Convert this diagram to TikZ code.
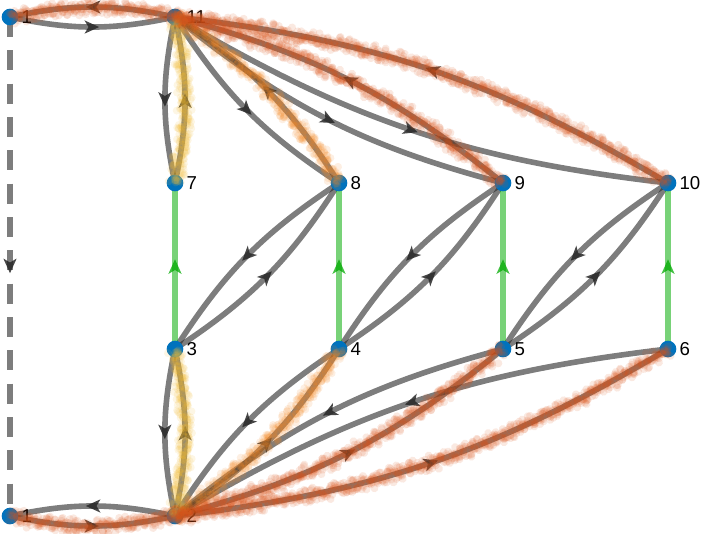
\documentclass[tikz,border=0pt]{standalone}
\usepackage{fontspec}
\setmainfont{Liberation Sans}
\usepackage{tikz}
\usetikzlibrary{arrows.meta, decorations.markings, backgrounds}
\definecolor{mygray}{RGB}{38,38,38}
\definecolor{myblue}{RGB}{0,114,189}
\definecolor{mygreen}{RGB}{0,170,0}
\definecolor{myred}{RGB}{217,83,25}
\definecolor{myorange}{RGB}{242,135,35}
\definecolor{myyellow}{RGB}{240,185,50}
\tikzset{
  vertex/.style={circle, fill=myblue, inner sep=0pt, minimum size=12.5pt,
    label={[font=\fontsize{14}{16}\selectfont, inner sep=0pt, label distance=2pt]0:#1}},
  midarrow/.style={postaction={decorate, decoration={markings,
    mark=at position 0.5 with {\fill[#1] (5pt,0) -- (-6pt,5pt) -- (-3pt,0) -- (-6pt,-5pt) -- cycle;}}}},
  link/.style={draw=mygray, draw opacity=0.6, line width=4.2pt, midarrow={mygray, fill opacity=0.85}},
  flow/.style={draw=mygreen, draw opacity=0.53, line width=5.2pt, midarrow={mygreen, fill opacity=0.75}},
  wrap/.style={link, dash pattern=on 15pt off 10pt},
  trail/.style={decoration={markings, mark=between positions 0 and 1 step 0.45pt
    with {\fill[#1, fill opacity=0.13] ({1.5pt*rand},{3.3pt*(rand+rand)}) circle (3pt);}}, decorate}
}
\begin{document}
\begin{tikzpicture}[x=0.75pt, y=-0.75pt]
  \useasboundingbox (0,0) rectangle (703,533);

  % vertices
  \node[vertex=1] (n1) at (10,17) {};
  \node[vertex=11] (n11) at (175,17) {};
  \node[vertex=7] (n7) at (175,183) {};
  \node[vertex=8] (n8) at (339,183) {};
  \node[vertex=9] (n9) at (503,183) {};
  \node[vertex=10] (n10) at (668,183) {};
  \node[vertex=3] (n3) at (175,349) {};
  \node[vertex=4] (n4) at (339,349) {};
  \node[vertex=5] (n5) at (503,349) {};
  \node[vertex=6] (n6) at (668,349) {};
  \node[vertex=1] (n1b) at (10,516) {};
  \node[vertex=2] (n2) at (175,516) {};

  % edges
  \begin{scope}[on background layer]
    \foreach \a/\b in {n1/n11, n11/n1, n2/n1b, n1b/n2, n11/n7, n7/n11, n3/n2, n2/n3,
        n11/n8, n8/n11, n11/n9, n9/n11, n11/n10, n10/n11, n3/n8, n8/n3, n4/n9, n9/n4,
        n5/n10, n10/n5, n2/n4, n4/n2, n2/n5, n5/n2, n2/n6, n6/n2}
      \draw[link] (\a.center) to[bend right=12] (\b.center);
    \foreach \a/\b in {n3/n7, n4/n8, n5/n9, n6/n10}
      \draw[flow] (\a.center) -- (\b.center);
    \draw[wrap] (n1.center) -- (n1b.center);
  \end{scope}

  % sampled trails
  \path[trail=myyellow] (n7.center) to[bend right=12] (n11.center);
  \path[trail=myyellow] (n2.center) to[bend right=12] (n3.center);
  \path[trail=myorange] (n8.center) to[bend right=12] (n11.center);
  \path[trail=myorange] (n2.center) to[bend right=12] (n4.center);
  \foreach \a/\b in {n11/n1, n1b/n2, n9/n11, n10/n11, n2/n5, n2/n6}
    \path[trail=myred] (\a.center) to[bend right=12] (\b.center);
\end{tikzpicture}
\end{document}
